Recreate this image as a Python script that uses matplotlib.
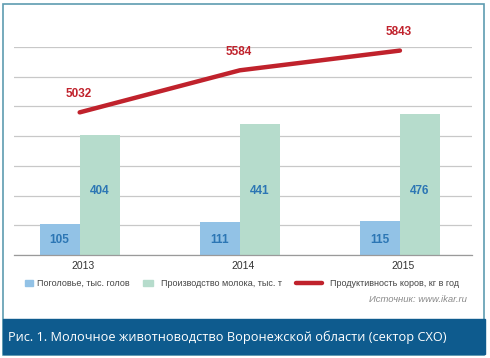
import matplotlib
matplotlib.use("Agg")
import matplotlib.pyplot as plt
from matplotlib.patches import Rectangle
from matplotlib.lines import Line2D
import numpy as np

years = ["2013", "2014", "2015"]
herd = [105, 111, 115]            # Поголовье, тыс. голов
milk = [404, 441, 476]            # Производство молока, тыс. т
productivity = [5032, 5584, 5843] # Продуктивность коров, кг в год

legend_labels = ["Поголовье, тыс. голов", "Производство молока, тыс. т",
                 "Продуктивность коров, кг в год"]
caption = "Рис. 1. Молочное животноводство Воронежской области (сектор СХО)"
source = "Источник: www.ikar.ru"

C_BLUE = "#92c2e6"
C_GREEN = "#b6dccc"
C_RED = "#c0222c"
C_VAL = "#2c76b4"
C_BAND = "#0e5b8e"
C_BORDER = "#5e9cb0"

W, H = 490, 358
fig = plt.figure(figsize=(W / 100, H / 100), dpi=100)
fig.patch.set_facecolor("white")

def fx(px):
    return px / W

def fy(py):
    return 1 - py / H

ax = fig.add_axes([fx(14), fy(255), fx(472) - fx(14), fy(47) - fy(255)])
x = np.arange(len(years))
bw = 0.25
ax.bar(x - bw / 2, herd, bw, color=C_BLUE, zorder=2)
ax.bar(x + bw / 2, milk, bw, color=C_GREEN, zorder=2)
ax.set_xlim(-0.41, 2.45)
ax.set_ylim(0, 700)
ax.set_yticks(np.arange(0, 701, 100))
ax.yaxis.grid(True, color="#c8c8c8", lw=0.9)
ax.set_axisbelow(True)
for s in ["top", "right", "left"]:
    ax.spines[s].set_visible(False)
ax.spines["bottom"].set_color("#9a9a9a")
ax.spines["bottom"].set_linewidth(0.9)
ax.set_xticks(x + 0.02)
ax.set_xticklabels(years, fontsize=7.5, color="#333333", family="Liberation Sans")

for i in range(len(years)):
    ax.text(x[i] - bw / 2, 52, str(herd[i]), ha="center", va="center",
            fontsize=8.5, fontweight="bold", color=C_VAL, family="Liberation Sans")
    ax.text(x[i] + bw / 2, 215, str(milk[i]), ha="center", va="center",
            fontsize=8.5, fontweight="bold", color=C_VAL, family="Liberation Sans")

ax2 = ax.twinx()
ax2.set_ylim(3160, 5890)
ax2.plot(x, productivity, color=C_RED, lw=3.2, solid_capstyle="round", zorder=3)
ax2.axis("off")
for i in range(len(years)):
    ax2.annotate(str(productivity[i]), (x[i], productivity[i]), xytext=(-1, 9),
                 textcoords="offset points", ha="center", va="bottom",
                 fontsize=8.5, fontweight="bold", color=C_RED, family="Liberation Sans")

ax.tick_params(axis="y", which="both", left=False, right=False, length=0,
               labelleft=False, labelright=False)
ax.tick_params(axis="x", bottom=False, length=0, pad=4)

# legend (manual)
ly = fy(283)
fig.patches.append(Rectangle((fx(25), fy(286)), fx(8), 6 / H, transform=fig.transFigure,
                             color=C_BLUE))
fig.patches.append(Rectangle((fx(143), fy(286)), fx(10), 6 / H, transform=fig.transFigure,
                             color=C_GREEN))
fig.lines.append(Line2D([fx(296), fx(322)], [ly, ly], transform=fig.transFigure,
                        color=C_RED, lw=3.2, solid_capstyle="round"))
lfam = ["Liberation Sans Narrow", "Liberation Sans"]
for px, lab in zip([37, 161, 330], legend_labels):
    fig.text(fx(px), ly, lab, ha="left", va="center", fontsize=6.5, color="#444444",
             family=lfam)

fig.text(fx(467), fy(299), source, ha="right", va="center", fontsize=6.8,
         style="italic", color="#8a8a8a", family="Liberation Sans")

# frame and caption band
fig.patches.append(Rectangle((fx(3), fy(355)), fx(481), (355 - 4) / H,
                             transform=fig.transFigure, fill=False,
                             edgecolor=C_BORDER, lw=1.2))
fig.patches.append(Rectangle((fx(3), fy(354)), fx(482), (354 - 319) / H,
                             transform=fig.transFigure, color=C_BAND))
fig.text(fx(8), fy(337), caption, ha="left", va="center", fontsize=9.2,
         color="white", family="Open Sans")

fig.savefig("out.png", dpi=100, facecolor="white")
